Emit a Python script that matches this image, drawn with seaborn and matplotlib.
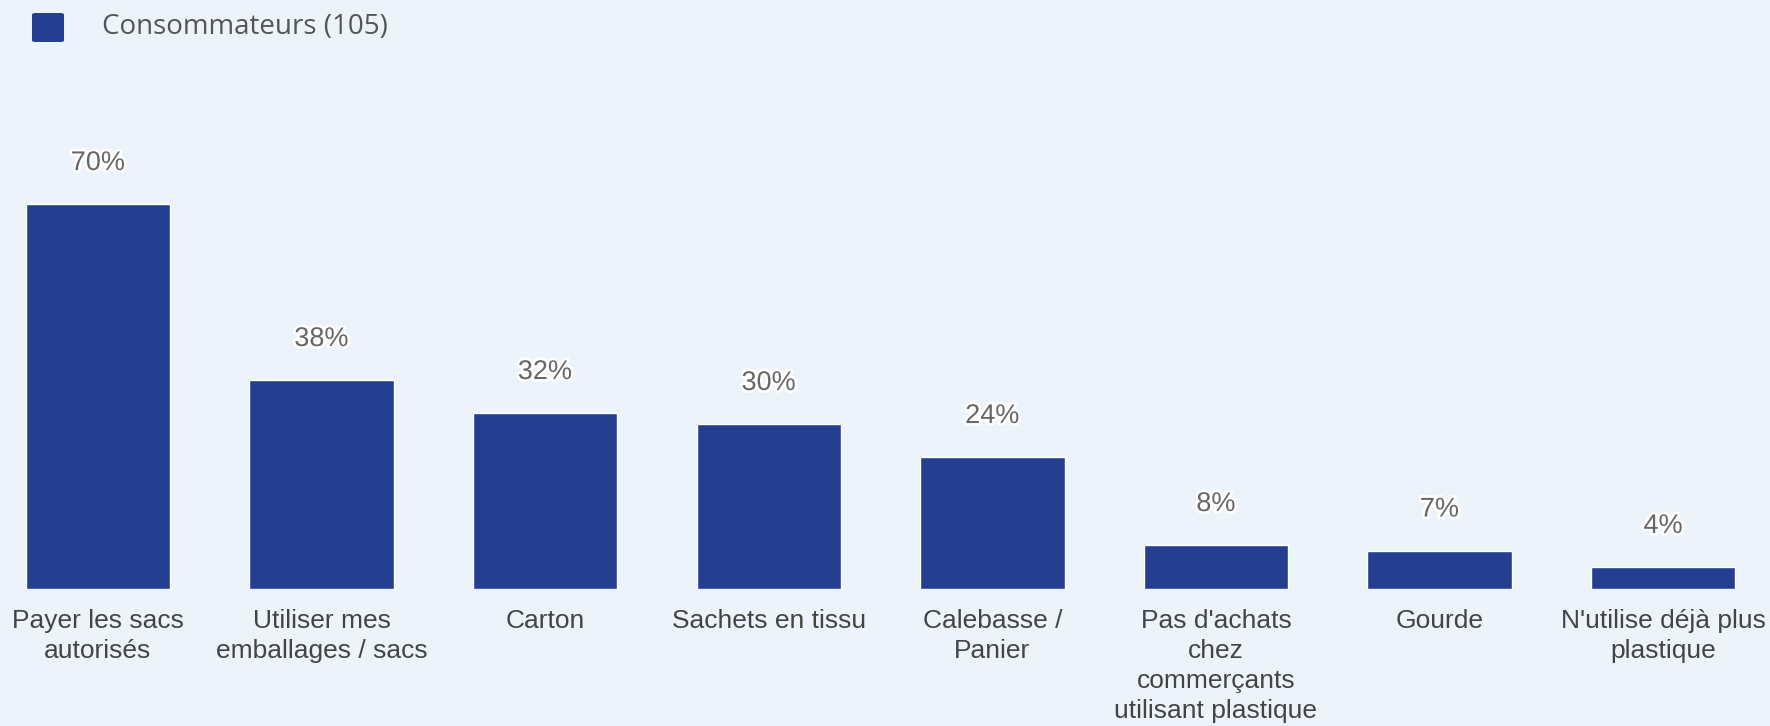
import matplotlib
matplotlib.use("Agg")
import matplotlib.pyplot as plt
import matplotlib.patheffects as pe
from matplotlib.patches import FancyBboxPatch
import seaborn as sns
import pandas as pd

categories = ["Payer les sacs\nautorisés", "Utiliser mes\nemballages / sacs", "Carton",
              "Sachets en tissu", "Calebasse /\nPanier", "Pas d'achats\nchez\ncommerçants\nutilisant plastique",
              "Gourde", "N'utilise déjà plus\nplastique"]
values = [70, 38, 32, 30, 24, 8, 7, 4]
series_name = "Consommateurs (105)"

BG = "#ECF3FB"
BAR = "#243F8F"
TXT = "#555555"

df = pd.DataFrame({"cat": categories, "val": values})

sns.set_style("white")
plt.rcParams["font.family"] = ["Liberation Sans", "DejaVu Sans"]

fig = plt.figure(figsize=(17.7, 7.26), dpi=100)
fig.patch.set_facecolor(BG)
ax = fig.add_axes([0, 0.1887, 1, 0.606])
ax.set_facecolor(BG)

sns.barplot(data=df, x="cat", y="val", color=BAR, width=0.646, saturation=1, ax=ax)

ax.set_ylim(0, 80)
ax.set_xlim(-0.438, 7.478)
for s in ax.spines.values():
    s.set_visible(False)
ax.set_yticks([])
ax.set_xlabel("")
ax.set_ylabel("")
ax.tick_params(axis="x", length=0, pad=14.5, labelsize=19, labelcolor="#444444")
for lab in ax.get_xticklabels():
    lab.set_linespacing(1.31)
    lab.set_verticalalignment("top")

for p, v in zip(ax.patches, values):
    x = p.get_x() + p.get_width() / 2
    ax.annotate(f"{v}%", (x, p.get_height()), xytext=(0, 29.5), textcoords="offset points",
                ha="center", va="center", fontsize=19.5, color="#666666",
                path_effects=[pe.withStroke(linewidth=4, foreground="white")])

# legend
fig.patches.append(FancyBboxPatch((32 / 1770, 1 - 42 / 726), 32 / 1770, 29 / 726,
                                  boxstyle="round,pad=0,rounding_size=0.002",
                                  transform=fig.transFigure, facecolor=BAR, edgecolor="none"))
fig.text(102 / 1770, 1 - 34 / 726, series_name, fontsize=20, color=TXT,
         family=["Open Sans", "DejaVu Sans"], va="baseline", ha="left")

fig.savefig("out.png", dpi=100, facecolor=BG)
